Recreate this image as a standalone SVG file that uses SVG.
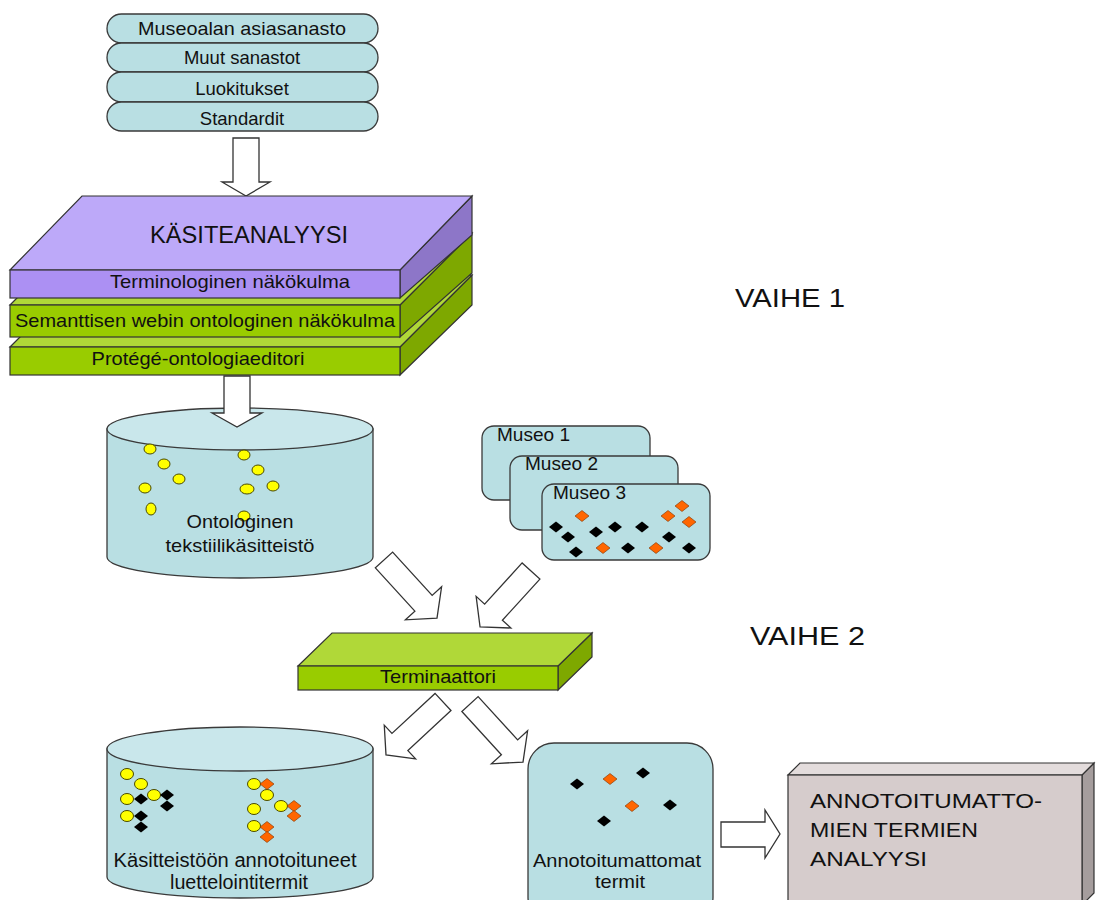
<svg xmlns="http://www.w3.org/2000/svg" width="1100" height="900" viewBox="0 0 1100 900">
<defs>
<style>
text{font-family:"Liberation Sans",Arial,sans-serif;fill:#111;}
.pill{fill:#B9DFE3;stroke:#3a3a3a;stroke-width:1.3;}
.cylS{fill:#B9DFE3;stroke:#3a3a3a;stroke-width:1.3;}
.cylT{fill:#C9E7EB;stroke:#3a3a3a;stroke-width:1.3;}
.card{fill:#B9DFE3;stroke:#3a3a3a;stroke-width:1.3;}
.arr{fill:#fff;stroke:#333;stroke-width:1.3;stroke-linejoin:miter;}
.pT{fill:#BDA9F9;stroke:#333;stroke-width:1.2;}
.pF{fill:#AC90F3;stroke:#333;stroke-width:1.2;}
.pS{fill:#8D76C8;stroke:#333;stroke-width:1.2;}
.gT{fill:#B0D838;stroke:#333;stroke-width:1.2;}
.gF{fill:#99CC00;stroke:#333;stroke-width:1.2;}
.gS{fill:#7EA800;stroke:#333;stroke-width:1.2;}
.bT{fill:#E3DCDC;stroke:#333;stroke-width:1.2;}
.bF{fill:#D6CCCC;stroke:#333;stroke-width:1.2;}
.bS{fill:#A59D9D;stroke:#333;stroke-width:1.2;}
.y{fill:#FFFF00;stroke:#4a4a00;stroke-width:1;}
.dk{fill:#000;}
.do{fill:#FF6600;stroke:#7a3300;stroke-width:0.6;}
.c{text-anchor:middle;}
</style>
<path id="dm" d="M0,-5.5 L7,0 L0,5.5 L-7,0Z"/>
</defs>
<rect width="1100" height="900" fill="#fff"/>

<g id="sources">
<rect class="pill" x="107" y="14" width="271" height="29" rx="14.5"/>
<rect class="pill" x="107" y="43" width="271" height="29" rx="14.5"/>
<rect class="pill" x="107" y="72" width="271" height="30" rx="14.5"/>
<rect class="pill" x="107" y="102" width="271" height="29" rx="14.5"/>
<text class="c" x="242" y="35" font-size="18.5" textLength="208" lengthAdjust="spacingAndGlyphs">Museoalan asiasanasto</text>
<text class="c" x="242" y="64" font-size="18.5">Muut sanastot</text>
<text class="c" x="242" y="95" font-size="18.5">Luokitukset</text>
<text class="c" x="242" y="125" font-size="18.5">Standardit</text>
</g>

<g id="connectors-top">
<polygon class="arr" points="233,138 259,138 259,182 270,182 246,196 222,182 233,182"/>
</g>

<g id="kasiteanalyysi">
<polygon class="gS" points="400,347 472,275 472,305 400,375"/>
<polygon class="gT" points="10,347 400,347 472,275 82,275"/>
<rect class="gF" x="10" y="347" width="390" height="28"/>
<polygon class="gS" points="400,305 472,233 472,273 400,337"/>
<polygon class="gT" points="10,305 400,305 472,233 82,233"/>
<rect class="gF" x="10" y="305" width="390" height="32"/>
<polygon class="pS" points="400,270 472,196 472,235 400,298"/>
<polygon class="pT" points="10,270 400,270 472,196 82,196"/>
<rect class="pF" x="10" y="270" width="390" height="28"/>
<text class="c" x="249" y="243" font-size="24" textLength="198" lengthAdjust="spacingAndGlyphs">KÄSITEANALYYSI</text>
<text class="c" x="230" y="288" font-size="18.5" textLength="240" lengthAdjust="spacingAndGlyphs">Terminologinen näkökulma</text>
<text class="c" x="205" y="327" font-size="18.5" textLength="380" lengthAdjust="spacingAndGlyphs">Semanttisen webin ontologinen näkökulma</text>
<text class="c" x="198" y="365" font-size="18.5" textLength="213" lengthAdjust="spacingAndGlyphs">Protégé-ontologiaeditori</text>
</g>

<g id="ontologinen-kasitteisto">
<path class="cylS" d="M107,429 L107,557 A133,21 0 0 0 373,557 L373,429 Z"/>
<ellipse class="cylT" cx="240" cy="429" rx="133" ry="21"/>
<ellipse class="y" cx="150" cy="449" rx="6" ry="5"/>
<ellipse class="y" cx="164" cy="464" rx="6" ry="5"/>
<ellipse class="y" cx="179" cy="479" rx="6" ry="5"/>
<ellipse class="y" cx="145" cy="488" rx="6" ry="5"/>
<ellipse class="y" cx="151" cy="509" rx="5" ry="6"/>
<ellipse class="y" cx="244" cy="455" rx="6" ry="5"/>
<ellipse class="y" cx="258" cy="470" rx="6" ry="5"/>
<ellipse class="y" cx="273" cy="486" rx="6" ry="5"/>
<ellipse class="y" cx="247" cy="489" rx="7" ry="5"/>
<ellipse class="y" cx="244" cy="516" rx="6" ry="5"/>
<text class="c" x="240" y="528" font-size="19" textLength="107" lengthAdjust="spacingAndGlyphs">Ontologinen</text>
<text class="c" x="240" y="552" font-size="19" textLength="149" lengthAdjust="spacingAndGlyphs">tekstiilikäsitteistö</text>
</g>

<g id="connectors-mid">
<polygon class="arr" points="224,376 250,376 250,413 262,413 237,427 212,413 224,413"/>
</g>

<g id="museot">
<rect class="card" x="482" y="426" width="168" height="74" rx="12"/>
<text x="497" y="441" font-size="19" textLength="73" lengthAdjust="spacingAndGlyphs">Museo 1</text>
<rect class="card" x="510" y="456" width="168" height="74" rx="12"/>
<text x="525" y="470" font-size="19" textLength="73" lengthAdjust="spacingAndGlyphs">Museo 2</text>
<rect class="card" x="542" y="484" width="168" height="76" rx="12"/>
<text x="553" y="499" font-size="19" textLength="73" lengthAdjust="spacingAndGlyphs">Museo 3</text>
<use href="#dm" class="do" x="582" y="516"/>
<use href="#dm" class="do" x="668" y="516"/>
<use href="#dm" class="do" x="682" y="506"/>
<use href="#dm" class="do" x="689" y="522"/>
<use href="#dm" class="do" x="603" y="548"/>
<use href="#dm" class="do" x="656" y="548"/>
<use href="#dm" class="dk" x="556" y="527"/>
<use href="#dm" class="dk" x="568" y="537"/>
<use href="#dm" class="dk" x="596" y="532"/>
<use href="#dm" class="dk" x="615" y="527"/>
<use href="#dm" class="dk" x="642" y="527"/>
<use href="#dm" class="dk" x="669" y="537"/>
<use href="#dm" class="dk" x="628" y="548"/>
<use href="#dm" class="dk" x="689" y="548"/>
<use href="#dm" class="dk" x="576" y="552"/>
</g>

<g id="connectors">
<polygon class="arr" transform="translate(384,560) rotate(47.6)" points="0,-11.7 58.6,-11.7 58.6,-24.5 78.6,0 58.6,24.5 58.6,11.7 0,11.7"/>
<polygon class="arr" transform="translate(531,571) rotate(132.3)" points="0,-12 55.7,-12 55.7,-23.5 75.7,0 55.7,23.5 55.7,12 0,12"/>
</g>

<g id="terminaattori">
<polygon class="gS" points="558,666 592,633 592,657 558,690"/>
<polygon class="gT" points="298,666 558,666 592,633 332,633"/>
<rect class="gF" x="298" y="666" width="260" height="24"/>
<text class="c" x="438" y="683" font-size="19" textLength="116" lengthAdjust="spacingAndGlyphs">Terminaattori</text>
</g>

<g id="connectors-bottom">
<polygon class="arr" transform="translate(443,702) rotate(137.1)" points="0,-11.7 58.8,-11.7 58.8,-23 77.8,0 58.8,23 58.8,11.7 0,11.7"/>
<polygon class="arr" transform="translate(470,704) rotate(47.6)" points="0,-11 58.6,-11 58.6,-24.5 78.6,0 58.6,24.5 58.6,11 0,11"/>
<polygon class="arr" points="721,822 765,822 765,810 780,834 765,858 765,847 721,847"/>
</g>

<g id="annotoituneet">
<path class="cylS" d="M107,749 L107,877 A133,21 0 0 0 373,877 L373,749 Z"/>
<ellipse class="cylT" cx="240" cy="749" rx="133" ry="22"/>
<ellipse class="y" cx="127" cy="774" rx="6.5" ry="5.5"/>
<ellipse class="y" cx="141" cy="784" rx="6.5" ry="5.5"/>
<ellipse class="y" cx="127" cy="799" rx="6.5" ry="5.5"/>
<ellipse class="y" cx="154" cy="795" rx="6.5" ry="5.5"/>
<ellipse class="y" cx="127" cy="816" rx="6.5" ry="5.5"/>
<ellipse class="y" cx="254" cy="784" rx="6.5" ry="5.5"/>
<ellipse class="y" cx="267" cy="795" rx="6.5" ry="5.5"/>
<ellipse class="y" cx="281" cy="806" rx="6.5" ry="5.5"/>
<ellipse class="y" cx="254" cy="809" rx="6.5" ry="5.5"/>
<ellipse class="y" cx="254" cy="826" rx="6.5" ry="5.5"/>
<use href="#dm" class="dk" x="141" y="799"/>
<use href="#dm" class="dk" x="167" y="795"/>
<use href="#dm" class="dk" x="167" y="806"/>
<use href="#dm" class="dk" x="141" y="816"/>
<use href="#dm" class="dk" x="141" y="827"/>
<use href="#dm" class="do" x="267" y="784"/>
<use href="#dm" class="do" x="294" y="806"/>
<use href="#dm" class="do" x="294" y="816"/>
<use href="#dm" class="do" x="267" y="827"/>
<use href="#dm" class="do" x="267" y="837"/>
<text class="c" x="235" y="867" font-size="19.5" textLength="243" lengthAdjust="spacingAndGlyphs">Käsitteistöön annotoituneet</text>
<text class="c" x="239" y="889" font-size="19.5" textLength="138" lengthAdjust="spacingAndGlyphs">luettelointitermit</text>
</g>

<g id="annotoitumattomat">
<rect class="card" x="528" y="743" width="185" height="180" rx="26"/>
<use href="#dm" class="dk" x="577" y="784"/>
<use href="#dm" class="do" x="610" y="779"/>
<use href="#dm" class="dk" x="643" y="773"/>
<use href="#dm" class="do" x="632" y="806"/>
<use href="#dm" class="dk" x="670" y="805"/>
<use href="#dm" class="dk" x="604" y="821"/>
<text class="c" x="617" y="867" font-size="19" textLength="168" lengthAdjust="spacingAndGlyphs">Annotoitumattomat</text>
<text class="c" x="620" y="888" font-size="19" textLength="50" lengthAdjust="spacingAndGlyphs">termit</text>
</g>

<g id="analyysi">
<polygon class="bS" points="1082,775 1094,763 1094,893 1082,905"/>
<polygon class="bT" points="788,775 1082,775 1094,763 800,763"/>
<rect class="bF" x="788" y="775" width="294" height="135"/>
<text x="810" y="808" font-size="21" textLength="232" lengthAdjust="spacingAndGlyphs">ANNOTOITUMATTO-</text>
<text x="810" y="837" font-size="21" textLength="168" lengthAdjust="spacingAndGlyphs">MIEN TERMIEN</text>
<text x="810" y="866" font-size="21" textLength="117" lengthAdjust="spacingAndGlyphs">ANALYYSI</text>
</g>

<g id="vaiheet">
<text x="735" y="307" font-size="25" textLength="110" lengthAdjust="spacingAndGlyphs">VAIHE 1</text>
<text x="750" y="645" font-size="25" textLength="115" lengthAdjust="spacingAndGlyphs">VAIHE 2</text>
</g>
</svg>
